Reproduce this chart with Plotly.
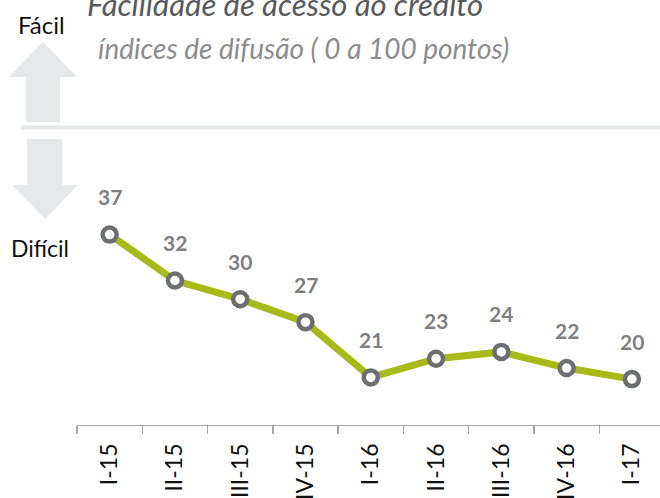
import plotly.graph_objects as go

categories = ["I-15", "II-15", "III-15", "IV-15", "I-16", "II-16", "III-16", "IV-16", "I-17"]
values = [37.4, 32.0, 29.8, 27.1, 20.6, 22.8, 23.6, 21.7, 20.4]
labels = ["37", "32", "30", "27", "21", "23", "24", "22", "20"]
neutral = 50

W, H = 660, 498
ML, MR, MT, MB = 77, 0, 0, 73
PW, PH = W - ML - MR, H - MT - MB
YR = [15.0, 65.0]


def px(x):
    return (x - ML) / PW


def py(y):
    return (H - MB - y) / PH


FONT = "Lato"

fig = go.Figure()
fig.add_trace(go.Scatter(
    x=categories, y=values, mode="lines+markers",
    line=dict(color="#a7ba17", width=7),
    marker=dict(size=14, color="white", line=dict(color="#6d6e71", width=4.5)),
    hoverinfo="skip", showlegend=False,
))

annotations = []
for c, v, t in zip(categories, values, labels):
    annotations.append(dict(x=c, y=v, text=t, showarrow=False, yshift=38,
                            xanchor="center", yanchor="middle",
                            font=dict(family=FONT, size=21, color="#7f7f7f", weight="bold")))

annotations += [
    dict(x=px(85), y=py(4), xref="paper", yref="paper", text="<i>Facilidade de acesso ao crédito</i>",
         showarrow=False, xanchor="left", yanchor="middle",
         font=dict(family=FONT, size=31, color="#595959")),
    dict(x=px(96), y=py(48), xref="paper", yref="paper", text="<i>índices de difusão ( 0 a 100 pontos)</i>",
         showarrow=False, xanchor="left", yanchor="middle",
         font=dict(family=FONT, size=28, color="#8c8c8c")),
    dict(x=px(16), y=py(24), xref="paper", yref="paper", text="Fácil",
         showarrow=False, xanchor="left", yanchor="middle",
         font=dict(family=FONT, size=24, color="#111111")),
    dict(x=px(9), y=py(248), xref="paper", yref="paper", text="Difícil",
         showarrow=False, xanchor="left", yanchor="middle",
         font=dict(family=FONT, size=23, color="#111111")),
]


def path(points):
    return "M " + " L ".join(f"{px(a):.5f},{py(b):.5f}" for a, b in points) + " Z"


up = [(43, 42), (77, 77), (60, 77), (60, 122), (26, 122), (26, 77), (9, 77)]
down = [(45, 219), (78, 185), (62, 185), (62, 139), (27, 139), (27, 185), (12, 185)]
ny = (neutral - YR[0]) / (YR[1] - YR[0])
shapes = [
    dict(type="path", path=path(up), xref="paper", yref="paper", fillcolor="#e6e7e8", line=dict(width=0), layer="below"),
    dict(type="path", path=path(down), xref="paper", yref="paper", fillcolor="#e6e7e8", line=dict(width=0), layer="below"),
    dict(type="line", xref="paper", yref="paper", x0=px(21), x1=px(W), y0=ny, y1=ny,
         line=dict(color="#e6e7e8", width=4), layer="below"),
]

fig.update_layout(
    width=W, height=H, margin=dict(l=ML, r=MR, t=MT, b=MB, autoexpand=False),
    paper_bgcolor="white", plot_bgcolor="white",
    annotations=annotations, shapes=shapes,
    xaxis=dict(type="category", range=[-0.5, 8.43], showgrid=False, zeroline=False,
               automargin=False,
               showline=True, linecolor="#a6a6a6", linewidth=1.3,
               ticks="outside", ticklen=8, tickcolor="#a6a6a6", tickwidth=1.3,
               tickson="boundaries", tickangle=-90, ticklabelstandoff=8,
               tickfont=dict(family=FONT, size=23, color="#111111")),
    yaxis=dict(range=YR, visible=False, showgrid=False, zeroline=False, automargin=False),
)

fig.write_html("out.html", config={"displayModeBar": False, "staticPlot": True},
               post_script="document.body.style.margin='0';document.body.style.padding='0';")
